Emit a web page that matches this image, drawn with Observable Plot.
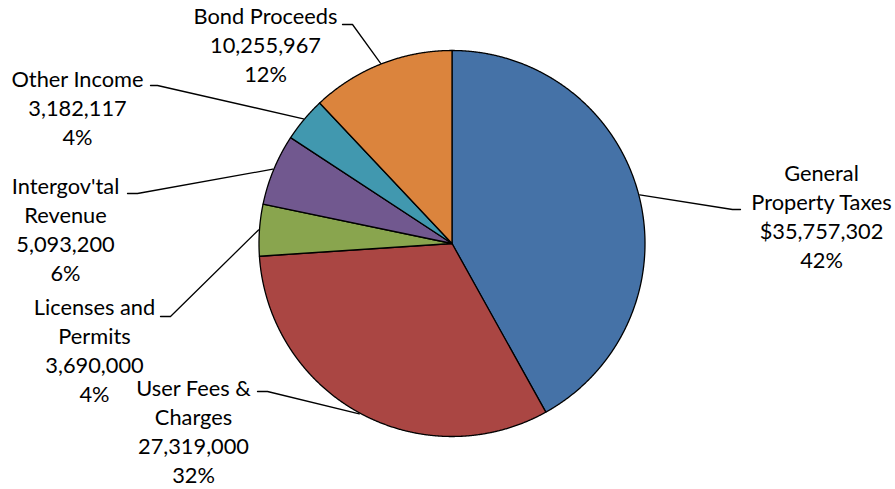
<!DOCTYPE html>
<html><head><meta charset="utf-8">
<script src="https://cdn.jsdelivr.net/npm/d3@7"></script>
<script src="https://cdn.jsdelivr.net/npm/@observablehq/plot@0.6"></script>
<style>body{margin:0;background:#fff}</style>
</head><body><div id="chart"></div>
<script>
// ---- data ----
const categories = ["General\nProperty Taxes", "User Fees &\nCharges", "Licenses and\nPermits", "Intergov'tal\nRevenue", "Other Income", "Bond Proceeds"];
const values = [35757302, 27319000, 3690000, 5093200, 3182117, 10255967];
const valuePrefixes = ["$", "", "", "", "", ""];
const colors = ["#4572A7", "#AA4643", "#89A54E", "#71588F", "#4198AF", "#DB843D"];

// ---- layout (pixels) ----
const W = 895, H = 489, CX = 451.5, CY = 243, R = 193;
const FONT = 21.8, LINE = 28.8;
// tx,ty: label centre x and last baseline; kx,ky: leader knee; ex: leader end x
const labelLayout = [
  {tx: 821, ty: 267, kx: 732, ky: 209, ex: 740},
  {tx: 193, ty: 482, kx: 267, ky: 391, ex: 257},
  {tx: 94,  ty: 401, kx: 170, ky: 316, ex: 160},
  {tx: 65,  ty: 280, kx: 137, ky: 193, ex: 127},
  {tx: 77,  ty: 144, kx: 157, ky: 85,  ex: 150},
  {tx: 265, ty: 81,  kx: 352, ky: 24,  ex: 342}
];
const ux = px => (px - CX) / R, uy = py => (CY - py) / R;

const total = d3.sum(values);
const arcs = d3.pie().sort(null).value(d => d)(values);

const slicePts = [];
arcs.forEach((a, i) => {
  slicePts.push({i, name: categories[i], x: 0, y: 0});
  const n = Math.max(8, Math.ceil((a.endAngle - a.startAngle) / 0.004));
  for (let k = 0; k <= n; k++) {
    const t = a.startAngle + (a.endAngle - a.startAngle) * k / n;
    slicePts.push({i, name: categories[i], x: Math.sin(t), y: Math.cos(t)});
  }
  slicePts.push({i, name: categories[i], x: 0, y: 0});
});

const leaderPts = [];
arcs.forEach((a, i) => {
  const m = (a.startAngle + a.endAngle) / 2, L = labelLayout[i];
  leaderPts.push({i, x: Math.sin(m) * 1.005, y: Math.cos(m) * 1.005});
  leaderPts.push({i, x: ux(L.kx), y: uy(L.ky)});
  leaderPts.push({i, x: ux(L.ex), y: uy(L.ky)});
});

const fmt = d3.format(",");
const labels = categories.map((c, i) => ({
  x: ux(labelLayout[i].tx), y: uy(labelLayout[i].ty),
  text: `${c}\n${valuePrefixes[i]}${fmt(values[i])}\n${Math.round(values[i] / total * 100)}%`
}));

const chart = Plot.plot({
  width: W, height: H, margin: 0,
  x: {domain: [-CX / R, (W - CX) / R], axis: null},
  y: {domain: [(CY - H) / R, CY / R], axis: null},
  color: {domain: categories, range: colors},
  style: {background: "#fff"},
  marks: [
    Plot.line(slicePts, {x: "x", y: "y", z: "i", fill: "name", stroke: "#000", strokeWidth: 1.3, strokeLinejoin: "round"}),
    Plot.line(leaderPts, {x: "x", y: "y", z: "i", stroke: "#000", strokeWidth: 1.3}),
    Plot.text(labels, {x: "x", y: "y", text: "text", textAnchor: "middle", lineAnchor: "bottom",
      lineHeight: LINE / FONT, fontSize: FONT, fontFamily: "Lato", fill: "#000"})
  ]
});
document.getElementById("chart").appendChild(chart);
</script>
</body></html>
